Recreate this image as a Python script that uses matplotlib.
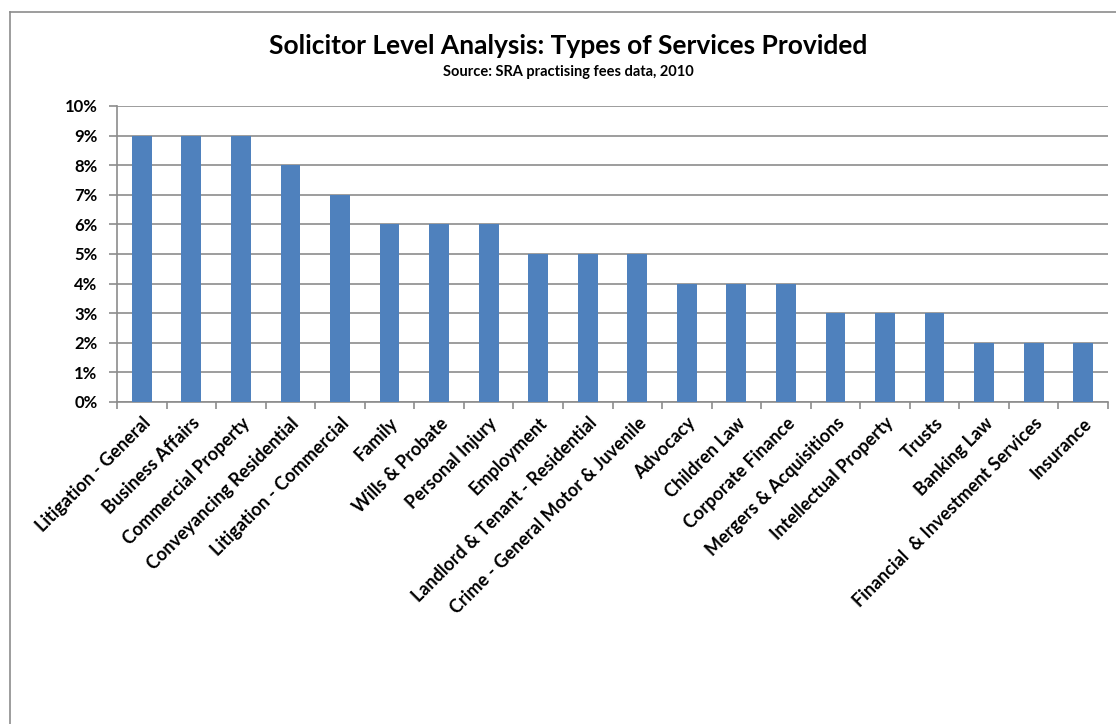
import matplotlib.pyplot as plt
from matplotlib.ticker import FuncFormatter, MultipleLocator
from matplotlib.lines import Line2D

services = ["Litigation - General", "Business Affairs", "Commercial Property",
            "Conveyancing Residential", "Litigation - Commercial", "Family",
            "Wills & Probate", "Personal Injury", "Employment",
            "Landlord & Tenant - Residential", "Crime - General Motor & Juvenile",
            "Advocacy", "Children Law", "Corporate Finance",
            "Mergers & Acquisitions", "Intellectual Property", "Trusts",
            "Banking Law", "Financial  & Investment Services", "Insurance"]
share = [9, 9, 9, 8, 7, 6, 6, 6, 5, 5, 5, 4, 4, 4, 3, 3, 3, 2, 2, 2]

plt.rcParams['font.family'] = ['Lato', 'DejaVu Sans']
plt.rcParams['font.weight'] = 'bold'

W, H = 1116, 724
fig = plt.figure(figsize=(W / 100, H / 100), dpi=100)
ax = fig.add_axes([117 / W, 1 - 402 / H, (1108 - 117) / W, (402 - 106) / H])

x = range(len(services))
ax.bar(x, share, width=0.4, color="#4F81BD", zorder=3)

ax.set_xlim(-0.5, len(services) - 0.5)
ax.set_ylim(0, 10)
ax.yaxis.set_major_locator(MultipleLocator(1))
ax.yaxis.set_major_formatter(FuncFormatter(lambda v, _: f"{v:.0f}%"))
ax.grid(axis="y", color="#8c8c8c", linewidth=1.2, zorder=0)

# category boundaries carry the x tick marks
ax.set_xticks([i - 0.5 for i in range(len(services) + 1)], minor=False)
ax.set_xticklabels([])
ax.set_xticks(list(x), minor=True)
ax.set_xticklabels(services, minor=True, rotation=45, ha="right",
                   rotation_mode="anchor", fontsize=13, fontweight="bold")
ax.tick_params(axis="x", which="minor", length=0, pad=9)
ax.tick_params(axis="x", which="major", length=5, color="#8c8c8c", width=1.2)
ax.tick_params(axis="y", length=6, color="#8c8c8c", width=1.2, labelsize=12,
               pad=8)
for lbl in ax.get_yticklabels():
    lbl.set_fontweight("bold")

for side in ("top", "right"):
    ax.spines[side].set_visible(False)
for side in ("left", "bottom"):
    ax.spines[side].set_color("#8c8c8c")
    ax.spines[side].set_linewidth(1.2)

fig.text(568 / W, 1 - 46 / H, "Solicitor Level Analysis: Types of Services Provided",
         ha="center", va="center", fontsize=19, fontweight="bold")
fig.text(568 / W, 1 - 72 / H, "Source: SRA practising fees data, 2010",
         ha="center", va="center", fontsize=10.5, fontweight="bold")

# chart frame (top and left edges)
fig.add_artist(Line2D([10 / W, 1], [1 - 12 / H, 1 - 12 / H], color="#8c8c8c", lw=1.2))
fig.add_artist(Line2D([10 / W, 10 / W], [0, 1 - 12 / H], color="#8c8c8c", lw=1.2))

fig.savefig("out.png", dpi=100)
